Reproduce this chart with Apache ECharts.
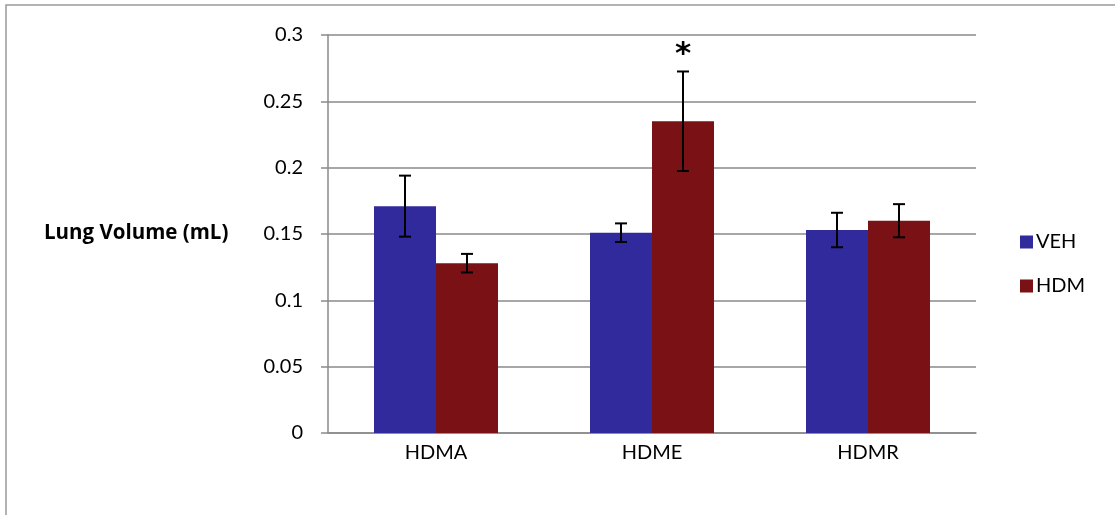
<!DOCTYPE html>
<html>
<head>
<meta charset="utf-8">
<script src="https://cdn.jsdelivr.net/npm/echarts@6/dist/echarts.min.js"></script>
<style>
  html, body { margin: 0; padding: 0; background: #fff; }
  #chart { width: 1115px; height: 515px; }
</style>
</head>
<body>
<div id="chart"></div>
<script>
// Lung volume by exposure group, mean ± SEM
const categories = ['HDMA', 'HDME', 'HDMR'];
const vehMean = [0.171, 0.151, 0.153];
const vehErr  = [0.023, 0.007, 0.013];
const hdmMean = [0.128, 0.235, 0.160];
const hdmErr  = [0.007, 0.0375, 0.0125];
const hdmSig  = ['', '*', ''];
const yTicks  = [0, 0.05, 0.1, 0.15, 0.2, 0.25, 0.3];

const BLUE = '#302a9c';
const RED = '#7a1114';
const BAR_FRACTION = 0.287; // each bar's share of a category slot

// error bar renderer: side -1 = left bar of the pair, +1 = right bar
function errorBar(side, means, errs, marks) {
  return function (params, api) {
    const i = api.value(0);
    const slot = api.size([1, 0])[0];
    const center = api.coord([i, means[i]]);
    const x = center[0] + side * slot * BAR_FRACTION / 2;
    const top = api.coord([i, means[i] + errs[i]])[1];
    const bot = api.coord([i, means[i] - errs[i]])[1];
    const cap = 6;
    const style = { stroke: '#000', lineWidth: 2 };
    const children = [
      { type: 'line', shape: { x1: x, y1: top, x2: x, y2: bot }, style },
      { type: 'line', shape: { x1: x - cap, y1: top, x2: x + cap, y2: top }, style },
      { type: 'line', shape: { x1: x - cap, y1: bot, x2: x + cap, y2: bot }, style }
    ];
    if (marks && marks[i]) {
      children.push({
        type: 'text',
        style: {
          text: marks[i], x: x, y: top - 17,
          align: 'center', verticalAlign: 'middle',
          fontFamily: 'DejaVu Sans', fontWeight: 'bold', fontSize: 31, fill: '#000'
        }
      });
    }
    return { type: 'group', children };
  };
}

const chart = echarts.init(document.getElementById('chart'), null, { renderer: 'canvas' });
chart.setOption({
  animation: false,
  backgroundColor: '#fff',
  textStyle: { fontFamily: 'Lato' },
  title: {
    text: 'Lung Volume (mL)',
    left: 44, top: 223, padding: 0,
    textStyle: { fontFamily: 'Open Sans', fontWeight: 'bold', fontSize: 20.5, color: '#000' }
  },
  legend: {
    orient: 'vertical',
    left: 1015, top: 227,
    itemWidth: 13, itemHeight: 13, itemGap: 24,
    icon: 'rect',
    textStyle: { fontFamily: 'Lato', fontSize: 20, color: '#000', padding: [0, 0, 0, -2] },
    data: ['VEH', 'HDM']
  },
  graphic: [{
    type: 'rect',
    shape: { x: 6, y: 5, width: 1200, height: 600 },
    style: { fill: 'none', stroke: '#9a9a9a', lineWidth: 1.5 },
    silent: true
  }],
  grid: { left: 328, right: 139, top: 35, bottom: 82 },
  xAxis: {
    type: 'category',
    data: categories,
    axisLine: { show: true, lineStyle: { color: '#8a8a8a', width: 1.5 } },
    axisTick: { show: false },
    axisLabel: { fontFamily: 'Lato', fontSize: 20, color: '#000', margin: 10 }
  },
  yAxis: {
    type: 'value',
    min: yTicks[0], max: yTicks[yTicks.length - 1], interval: 0.05,
    axisLine: { show: true, lineStyle: { color: '#8a8a8a', width: 1.5 } },
    axisTick: { show: true, length: 7, lineStyle: { color: '#8a8a8a', width: 1.5 } },
    axisLabel: {
      fontFamily: 'Lato', fontSize: 20, color: '#000', margin: 25,
      formatter: v => String(parseFloat(v.toFixed(2)))
    },
    splitLine: { show: true, lineStyle: { color: '#8a8a8a', width: 1.5 } }
  },
  series: [
    {
      name: 'VEH', type: 'bar', data: vehMean,
      barWidth: (BAR_FRACTION * 100) + '%', barGap: '0%',
      itemStyle: { color: BLUE }
    },
    {
      name: 'HDM', type: 'bar', data: hdmMean,
      barWidth: (BAR_FRACTION * 100) + '%', barGap: '0%',
      itemStyle: { color: RED }
    },
    {
      type: 'custom', name: 'VEH err', z: 5,
      data: categories.map((c, i) => [i]),
      renderItem: errorBar(-1, vehMean, vehErr, null)
    },
    {
      type: 'custom', name: 'HDM err', z: 5,
      data: categories.map((c, i) => [i]),
      renderItem: errorBar(1, hdmMean, hdmErr, hdmSig)
    }
  ]
});
</script>
</body>
</html>
